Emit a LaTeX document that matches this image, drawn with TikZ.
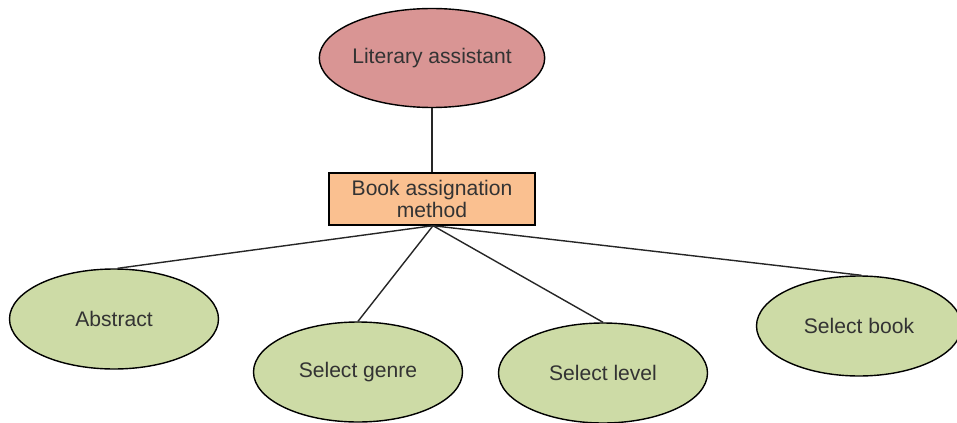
\documentclass[tikz,border=0pt]{standalone}
\usepackage{fontspec}
\setmainfont{Liberation Sans}
\usetikzlibrary{positioning, shapes.geometric}
\definecolor{cRoot}{RGB}{217,149,148}
\definecolor{cMethod}{RGB}{250,192,144}
\definecolor{cLeaf}{RGB}{205,219,166}
\definecolor{cText}{RGB}{51,51,51}
\tikzset{
  oval/.style={ellipse, draw=black, line width=0.8pt, inner sep=0pt,
               font=\fontsize{12}{13}\selectfont, text=cText, align=center},
  ovalRoot/.style={oval, fill=cRoot, minimum width=4.2cm, minimum height=1.98cm},
  ovalLeaf/.style={oval, fill=cLeaf, minimum width=4.18cm, minimum height=2.0cm},
  methodbox/.style={rectangle, draw=black, line width=0.8pt, fill=cMethod,
                    minimum width=4.12cm, minimum height=1.04cm, inner sep=2pt,
                    font=\fontsize{12}{12.5}\selectfont, text=cText, align=center},
  link/.style={draw=black!85, line width=0.8pt},
}
\begin{document}
\begin{tikzpicture}

%% ============================================================
%%  FRAME  (957 x 423 px, 1px = 0.02cm)
%% ============================================================
\useasboundingbox (0,0) rectangle (19.14,-8.46);

%% ----- Root -----
\node[ovalRoot] (lit) at (8.64,-1.16) {Literary assistant};

%% ----- Method -----
\node[methodbox] (method) at (8.64,-3.98) {Book assignation\\method};

%% ============================================================
%%  LEAVES
%% ============================================================
\node[ovalLeaf] (abstract) at (2.28,-6.38)  {Abstract};
\node[ovalLeaf] (genre)    at (7.16,-7.44)  {Select genre};
\node[ovalLeaf] (level)    at (12.06,-7.46) {Select level};
\node[ovalLeaf, minimum width=4.1cm] (book) at (17.18,-6.52) {Select book};

%% ----- Connectors -----
\draw[link] (lit.south) -- (method.north);
\coordinate (hub) at ([xshift=0.02cm]method.south);
\foreach \leaf/\ang in {abstract/86, genre/90, level/90, book/87} {
  \draw[link] (hub) -- (\leaf.\ang);
}

\end{tikzpicture}
\end{document}
